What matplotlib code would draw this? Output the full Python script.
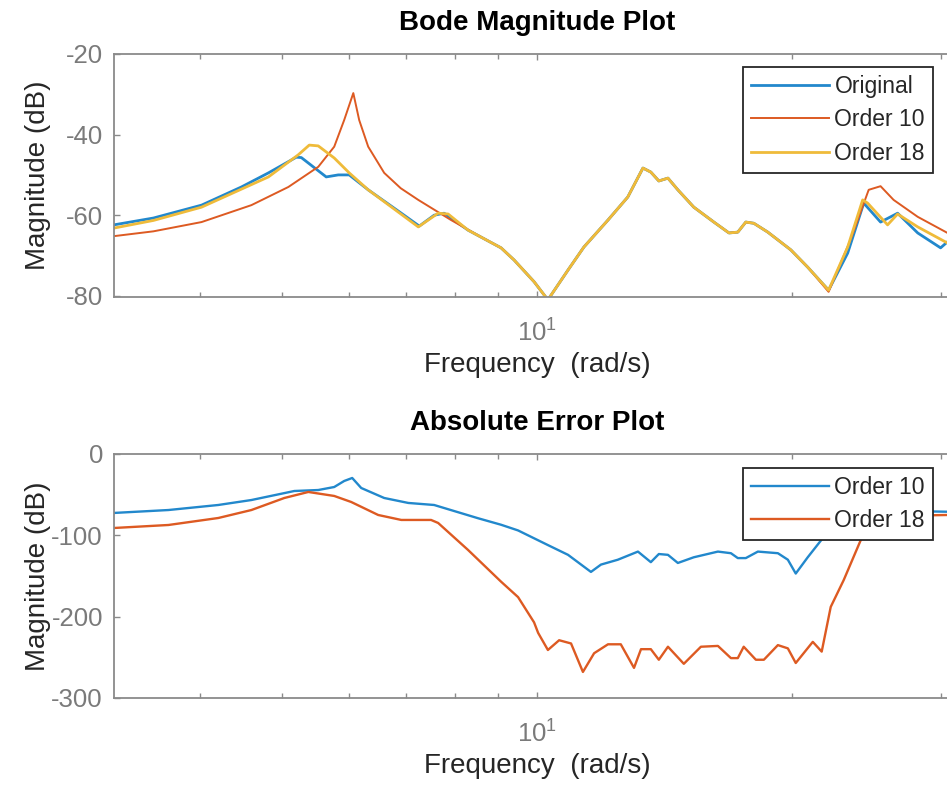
import matplotlib
matplotlib.use("Agg")
import matplotlib.pyplot as plt
from matplotlib.ticker import FixedLocator, NullFormatter, FixedFormatter

plt.rcParams["font.family"] = ["Liberation Sans", "DejaVu Sans"]
plt.rcParams["mathtext.fontset"] = "custom"
plt.rcParams["mathtext.rm"] = "Liberation Sans"

# ---- Bode magnitude data (rad/s, dB) ----
orig_f = [3.16, 3.52, 4.013, 4.472, 4.814, 5.194, 5.265, 5.634, 5.821, 5.998, 6.316, 6.911,
          7.258, 7.557, 7.766, 8.288, 9.067, 9.393, 9.919, 10.30, 10.88, 11.36, 12.13, 12.80,
          13.34, 13.63, 13.93, 14.28, 14.67, 15.32, 16.18, 16.86, 17.27, 17.65, 18.04, 18.74,
          19.95, 20.89, 22.11, 23.29, 24.33, 25.47, 26.68, 28.18, 29.99, 30.56, 31.62]
orig_db = [-62.4, -60.7, -57.5, -53.0, -49.5, -45.6, -45.7, -50.5, -50.0, -50.0, -53.7, -59.5,
           -62.7, -60.0, -59.5, -63.7, -68.1, -71.1, -76.5, -81.0, -73.6, -67.9, -61.2, -55.5,
           -48.3, -49.3, -51.5, -50.8, -53.7, -58.0, -61.7, -64.4, -64.2, -61.7, -62.0, -64.2,
           -68.6, -72.9, -78.6, -69.4, -57.0, -61.7, -59.5, -64.4, -68.1, -66.6, -65.5]

ord10_f = [3.16, 3.52, 4.013, 4.596, 5.082, 5.513, 5.758, 5.916, 6.065, 6.163, 6.316, 6.597,
           6.9, 7.238, 7.914, 8.6, 9.067, 9.393, 9.919, 10.30, 10.88, 11.36, 12.13, 12.80, 13.34,
           13.63, 13.93, 14.28, 14.67, 15.32, 16.18, 16.86, 17.27, 17.65, 18.04, 18.74, 19.95,
           20.89, 22.11, 23.48, 24.66, 25.47, 26.39, 28.18, 30.56, 31.62]
ord10_db = [-65.2, -64.0, -61.7, -57.5, -53.0, -48.0, -43.0, -36.4, -29.7, -36.4, -43.0, -49.5,
            -53.3, -56.2, -61.2, -65.5, -68.1, -71.1, -76.5, -81.0, -73.6, -67.9, -61.2, -55.5, -48.3,
            -49.3, -51.5, -50.8, -53.7, -58.0, -61.7, -64.4, -64.2, -61.7, -62.0, -64.2, -68.6,
            -72.9, -79.0, -66.0, -53.7, -52.8, -56.2, -60.4, -64.4, -65.2]

ord18_f = [3.16, 3.52, 4.013, 4.814, 5.222, 5.380, 5.513, 5.758, 5.998, 6.316, 7.238, 7.640,
           7.850, 8.288, 9.067, 9.393, 9.919, 10.30, 10.88, 11.36, 12.13, 12.80, 13.34, 13.63,
           13.93, 14.28, 14.67, 15.32, 16.18, 16.86, 17.27, 17.65, 18.04, 18.74, 19.95, 20.89,
           22.11, 23.29, 24.26, 24.59, 25.96, 26.68, 28.18, 30.56, 31.62]
ord18_db = [-63.2, -61.3, -58.0, -50.5, -45.0, -42.6, -42.8, -45.8, -49.5, -53.7, -62.9, -59.5,
            -59.7, -63.7, -68.1, -71.1, -76.5, -81.0, -73.6, -67.9, -61.2, -55.5, -48.3, -49.3,
            -51.5, -50.8, -53.7, -58.0, -61.7, -64.4, -64.2, -61.7, -62.0, -64.2, -68.6, -72.9,
            -78.6, -67.9, -56.2, -57.0, -62.4, -59.7, -62.9, -66.9, -67.8]

# ---- absolute error data ----
err10_f = [3.16, 3.667, 4.200, 4.596, 5.166, 5.513, 5.758, 5.916, 6.047, 6.197, 6.597, 7.044,
           7.557, 7.914, 8.517, 9.067, 9.497, 10.30, 10.88, 11.58, 11.90, 12.46, 13.16, 13.63,
           13.93, 14.28, 14.67, 15.32, 16.36, 16.95, 17.27, 17.65, 18.24, 19.26, 19.79, 20.22,
           20.89, 21.82, 23.04, 24.13, 24.80, 26.91, 30.56, 31.62]
err10_db = [-72.5, -68.9, -62.7, -56.6, -45.5, -44.3, -40.6, -33.2, -29.5, -41.8, -54.1, -60.2,
            -62.7, -69.0, -79.0, -87.0, -94.0, -112.0, -124.0, -145.0, -136.0, -130.0, -120.0, -133.0,
            -123.0, -124.0, -134.0, -127.0, -120.0, -122.0, -128.0, -128.0, -120.0, -122.0, -130.0, -147.0,
            -127.0, -102.0, -88.0, -76.0, -72.0, -70.0, -71.0, -71.0]

err18_f = [3.16, 3.667, 4.200, 4.596, 5.027, 5.366, 5.758, 6.030, 6.490, 6.911, 7.494, 7.640,
           8.288, 9.067, 9.497, 9.919, 10.03, 10.30, 10.62, 10.97, 11.33, 11.68, 12.13, 12.56,
           13.02, 13.27, 13.63, 13.93, 14.28, 14.91, 15.62, 16.36, 16.95, 17.27, 17.55, 18.14,
           18.54, 19.26, 19.79, 20.22, 21.18, 21.70, 22.24, 23.04, 24.13, 24.80, 25.47, 26.91,
           30.56, 31.62]
err18_db = [-91.0, -87.3, -78.7, -68.9, -54.1, -46.7, -51.6, -59.0, -75.0, -81.1, -81.1, -84.8,
            -118.0, -157.0, -176.0, -207.0, -220.0, -241.0, -229.0, -233.0, -268.0, -245.0, -234.0, -234.0,
            -263.0, -240.0, -240.0, -253.0, -237.0, -258.0, -237.0, -236.0, -251.0, -251.0, -237.0, -253.0,
            -253.0, -235.0, -239.0, -257.0, -231.0, -243.0, -188.0, -155.0, -106.0, -90.0, -81.0, -76.0,
            -75.0, -75.0]

BLUE = "#2288cc"
RED = "#dd5a22"
YELLOW = "#efbb3a"
TICK_GRAY = "#7a7a7a"
SPINE_GRAY = "#8a8a8a"

fig = plt.figure(figsize=(9.47, 7.86), dpi=100)
ax1 = fig.add_axes([0.1204, 0.6221, 0.8934, 0.3092])
ax2 = fig.add_axes([0.1204, 0.1120, 0.8934, 0.3104])


def style_axes(ax, yticks):
    ax.set_xscale("log")
    ax.set_xlim(10 ** 0.5, 10 ** 1.5)
    ax.xaxis.set_major_locator(FixedLocator([10]))
    ax.xaxis.set_major_formatter(FixedFormatter([r"$\mathregular{10^{1}}$"]))
    ax.xaxis.set_minor_locator(FixedLocator([4, 5, 6, 7, 8, 9, 20, 30]))
    ax.xaxis.set_minor_formatter(NullFormatter())
    ax.set_yticks(yticks)
    ax.set_yticklabels([str(v) for v in yticks])
    for sp in ax.spines.values():
        sp.set_color(SPINE_GRAY)
        sp.set_linewidth(1.3)
    ax.tick_params(which="both", direction="in", top=True, right=True,
                   color=SPINE_GRAY, width=1.0, labelcolor=TICK_GRAY, labelsize=18.5)
    ax.tick_params(which="major", length=4.5)
    ax.tick_params(which="minor", length=3.5)
    ax.tick_params(axis="x", pad=16)
    ax.tick_params(axis="y", pad=8)
    ax.set_xlabel("Frequency  (rad/s)", fontsize=20, color="#262626")
    ax.set_ylabel("Magnitude (dB)", fontsize=20, color="#262626")
    ax.xaxis.set_label_coords(0.5, -0.225)
    ax.yaxis.set_label_coords(-0.074, 0.5)


ax1.plot(orig_f, orig_db, color=BLUE, lw=2.0, label="Original")
ax1.plot(ord10_f, ord10_db, color=RED, lw=1.4, label="Order 10")
ax1.plot(ord18_f, ord18_db, color=YELLOW, lw=2.0, label="Order 18")
ax1.set_ylim(-80.3, -20)
style_axes(ax1, [-80, -60, -40, -20])
ax1.set_title("Bode Magnitude Plot", fontsize=20, fontweight="bold", pad=17)

ax2.plot(err10_f, err10_db, color=BLUE, lw=1.7, label="Order 10")
ax2.plot(err18_f, err18_db, color=RED, lw=1.7, label="Order 18")
ax2.set_ylim(-300, 0)
style_axes(ax2, [-300, -200, -100, 0])
ax2.set_title("Absolute Error Plot", fontsize=20, fontweight="bold", pad=17)

for ax, anchor in [(ax1, (0.968, 0.9465)), (ax2, (0.968, 0.9426))]:
    leg = ax.legend(loc="upper right", bbox_to_anchor=anchor, borderaxespad=0,
                    fontsize=16.5, fancybox=False, framealpha=1, edgecolor="#262626",
                    handlelength=3.4, handletextpad=0.25, labelspacing=0.45,
                    borderpad=0.35)
    leg.get_frame().set_linewidth(1.3)
    for t in leg.get_texts():
        t.set_color("#262626")

fig.savefig("out.png", dpi=100)
